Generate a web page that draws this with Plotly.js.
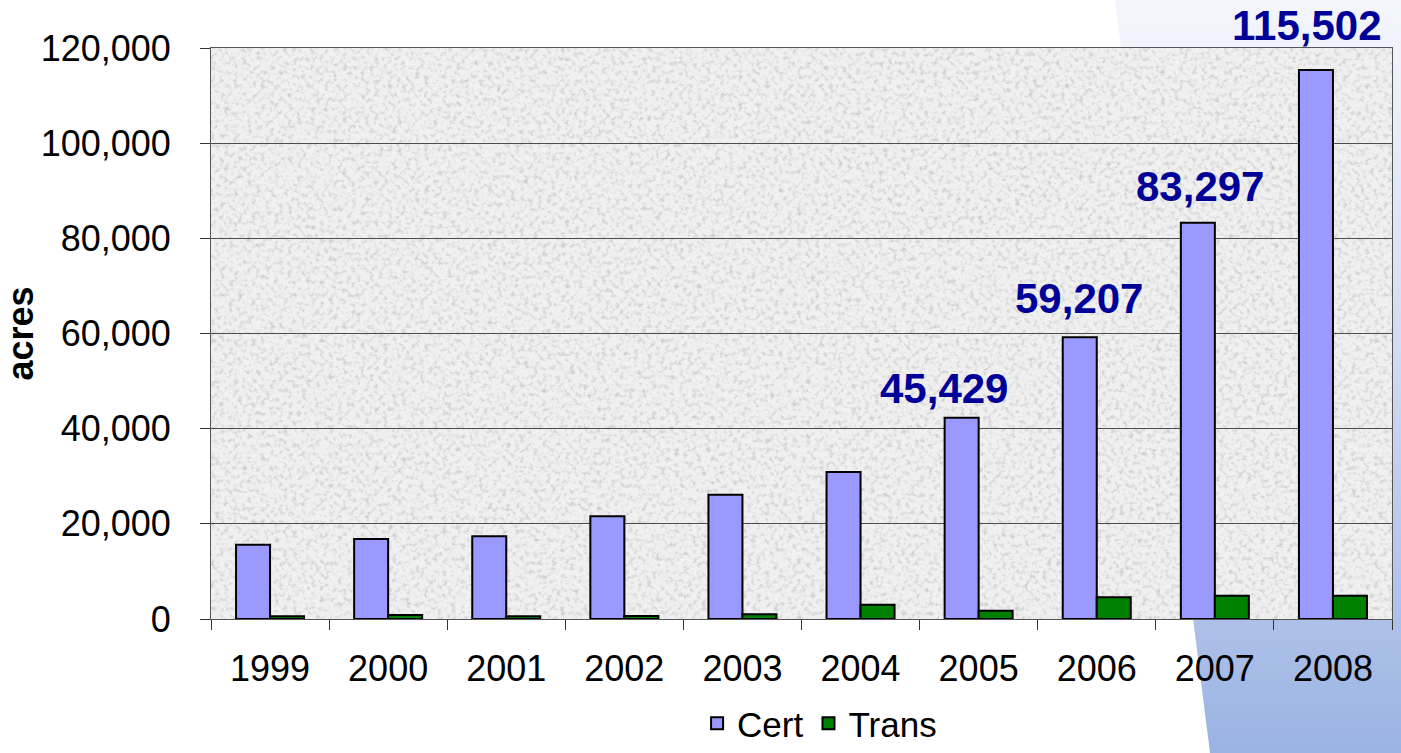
<!DOCTYPE html>
<html>
<head>
<meta charset="utf-8">
<script src="https://cdn.plot.ly/plotly-3.0.1.min.js"></script>
<style>
  html, body { margin: 0; padding: 0; background: #ffffff; }
  #wrap { position: relative; width: 1401px; height: 753px; overflow: hidden; }
  #deco {
    position: absolute; left: 0; top: 0; width: 1401px; height: 753px;
    background: linear-gradient(to bottom, #f4f6fc 0%, #d2ddf3 45%, #9bb3e3 100%);
    clip-path: polygon(1115px 0px, 1401px 0px, 1401px 753px, 1210px 753px);
  }
  #chart { position: absolute; left: 0; top: 0; width: 1401px; height: 753px; }
</style>
</head>
<body>
<div id="wrap">
  <div id="deco"></div>
  <div id="chart"></div>
</div>
<script>
// ---- data ----
const years = ['1999', '2000', '2001', '2002', '2003', '2004', '2005', '2006', '2007', '2008'];
const cert  = [15600, 16800, 17400, 21600, 26100, 30900, 42300, 59200, 83300, 115400];
const trans = [600, 850, 600, 650, 1000, 3000, 1750, 4550, 4900, 4900];
const labelYears = ['2005', '2006', '2007', '2008'];
const labelTexts = ['45,429', '59,207', '83,297', '115,502'];
const yTicks = [0, 20000, 40000, 60000, 80000, 100000, 120000];

// label placement offsets (pixels, styling only)
const labelDX = [-35, -18, -15, -26];
const labelDY = [29, 39, 36, 44];

const noiseSvg =
  "<svg xmlns='http://www.w3.org/2000/svg' width='1181' height='571'>" +
  "<filter id='n' x='0' y='0' width='100%' height='100%'>" +
  "<feTurbulence type='fractalNoise' baseFrequency='0.22' numOctaves='3' seed='7'/>" +
  "<feColorMatrix type='matrix' values='0 0 0 0 0.6  0 0 0 0 0.6  0 0 0 0 0.6  2.6 0 0 0 -1.25'/>" +
  "</filter>" +
  "<rect width='100%' height='100%' fill='#f0f0f0'/>" +
  "<rect width='100%' height='100%' filter='url(#n)'/>" +
  "</svg>";
const noiseUrl = 'data:image/svg+xml;charset=utf-8,' + encodeURIComponent(noiseSvg);

const font = 'Liberation Sans, Arial, sans-serif';

const traces = [
  {
    type: 'bar', name: 'Cert', x: years, y: cert,
    marker: { color: '#9999ff', line: { color: '#000000', width: 2 } },
    hoverinfo: 'x+y'
  },
  {
    type: 'bar', name: 'Trans', x: years, y: trans,
    marker: { color: '#008000', line: { color: '#000000', width: 2 } },
    hoverinfo: 'x+y'
  }
];

// on a category axis, annotation x is the category's serial index
const annotations = labelYears.map((yr, i) => ({
  x: years.indexOf(yr), y: cert[years.indexOf(yr)], xref: 'x', yref: 'y',
  text: labelTexts[i], showarrow: false,
  xanchor: 'center', yanchor: 'middle',
  xshift: labelDX[i], yshift: labelDY[i],
  font: { family: font, size: 42, color: '#000099', weight: 'bold' }
}));

const layout = {
  width: 1401, height: 753,
  margin: { l: 211, r: 9, t: 48, b: 134, pad: 0, autoexpand: false },
  paper_bgcolor: 'rgba(0,0,0,0)',
  plot_bgcolor: '#e9e9e9',
  barmode: 'group', bargap: 0.424, bargroupgap: 0,
  showlegend: true,
  legend: {
    orientation: 'h', xref: 'container', yref: 'container',
    x: 0.585, xanchor: 'center', y: 0, yanchor: 'bottom',
    font: { family: font, size: 35, color: '#000000' },
    bgcolor: 'rgba(0,0,0,0)', itemwidth: 30, tracegroupgap: 0
  },
  xaxis: {
    type: 'category', tickson: 'boundaries', ticks: 'outside', ticklen: 10,
    tickcolor: '#333333', tickwidth: 1, tickangle: 0, automargin: false,
    range: [-0.5, 9.5],
    showline: true, linecolor: '#555555', linewidth: 1, mirror: true,
    showgrid: false, zeroline: false,
    tickfont: { family: font, size: 36, color: '#000000' },
    ticklabelstandoff: 18
  },
  yaxis: {
    range: [0, 120000], tickvals: yTicks, tickformat: ',d', automargin: false,
    ticks: 'outside', ticklen: 10, tickcolor: '#333333', tickwidth: 1,
    showline: true, linecolor: '#555555', linewidth: 1, mirror: true,
    showgrid: true, gridcolor: '#4d4d4d', gridwidth: 1, zeroline: false,
    tickfont: { family: font, size: 36, color: '#000000' },
    ticklabelstandoff: 22,
    title: {
      text: 'acres', standoff: 9,
      font: { family: 'Liberation Sans Narrow, Arial Narrow, sans-serif', size: 36, color: '#000000', weight: 'bold' }
    }
  },
  images: [{
    source: noiseUrl, xref: 'paper', yref: 'paper', x: 0, y: 1,
    sizex: 1, sizey: 1, sizing: 'stretch', xanchor: 'left', yanchor: 'top',
    layer: 'below', opacity: 1
  }],
  annotations: annotations
};

Plotly.newPlot('chart', traces, layout, { displayModeBar: false });
</script>
</body>
</html>
